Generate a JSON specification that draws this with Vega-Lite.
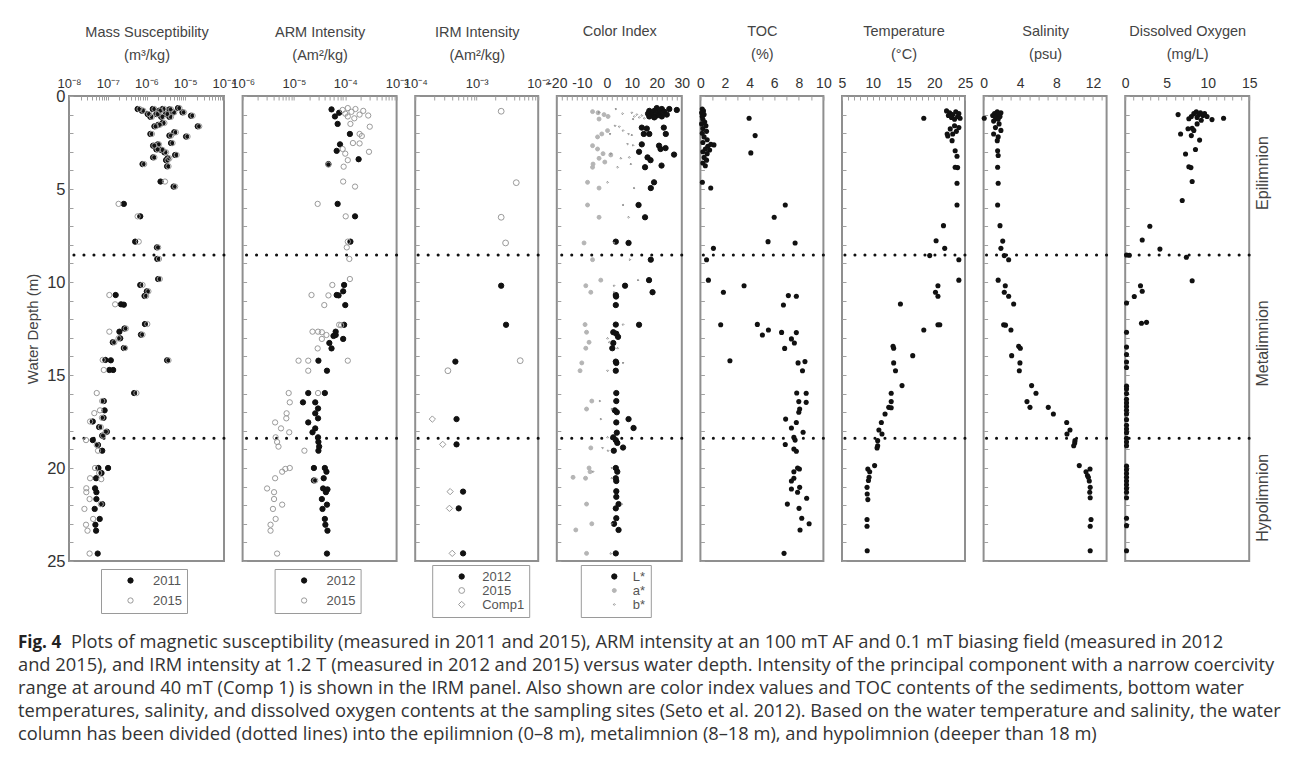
{
  "$schema": "https://vega.github.io/schema/vega-lite/v6.json",
  "background": "white",
  "padding": {"left": 18, "top": 22, "right": 5, "bottom": 5},
  "config": {
    "font": "Liberation Sans",
    "view": {"stroke": "#8f8f8f", "strokeWidth": 2},
    "axis": {"labelColor": "#333333", "titleColor": "#444444", "labelFont": "Liberation Sans", "titleFont": "Liberation Sans", "labelFontSize": 14, "titleFontSize": 14.5, "titleFontWeight": "normal", "domain": false, "grid": false, "tickColor": "#a0a0a0", "tickSize": -4, "labelFlush": false, "labelOverlap": false, "labelPadding": 10, "titleLineHeight": 23},
    "legend": {"orient": "none", "direction": "vertical", "strokeColor": "#9a9a9a", "padding": 5, "labelFontSize": 13, "labelColor": "#555555", "labelFont": "Liberation Sans", "symbolSize": 28, "symbolStrokeWidth": 1, "rowPadding": 6}
  },
  "datasets": {
    "zones": [{"depth": 8.55}, {"depth": 18.4}],
    "zonelabels": [{"zone": "Epilimnion", "depth": 4.14}, {"zone": "Metalimnion", "depth": 13.3}, {"zone": "Hypolimnion", "depth": 21.6}],
    "ms": [
      {"depth":0.65,"value":6.5e-6,"series":"2011"},{"depth":0.70,"value":5.9e-7,"series":"2011"},{"depth":0.70,"value":1.45e-6,"series":"2011"},{"depth":0.70,"value":2.6e-6,"series":"2011"},{"depth":0.72,"value":3.9e-6,"series":"2011"},{"depth":0.79,"value":7.6e-7,"series":"2011"},{"depth":0.79,"value":2.1e-6,"series":"2011"},{"depth":0.88,"value":4.8e-6,"series":"2011"},{"depth":0.88,"value":8.5e-6,"series":"2011"},{"depth":0.97,"value":1.07e-6,"series":"2011"},{"depth":0.97,"value":1.8e-6,"series":"2011"},{"depth":0.97,"value":3.2e-6,"series":"2011"},{"depth":1.06,"value":1.41e-5,"series":"2011"},{"depth":1.12,"value":1.26e-6,"series":"2011"},{"depth":1.12,"value":2.4e-6,"series":"2011"},{"depth":1.12,"value":3.9e-6,"series":"2011"},{"depth":1.45,"value":2.6e-6,"series":"2011"},{"depth":1.55,"value":2.0e-6,"series":"2011"},{"depth":1.63,"value":1.6e-6,"series":"2011"},{"depth":1.63,"value":2.1e-5,"series":"2011"},{"depth":1.95,"value":5.2e-6,"series":"2011"},{"depth":2.04,"value":1.26e-6,"series":"2011"},{"depth":2.13,"value":3.9e-6,"series":"2011"},{"depth":2.18,"value":1.05e-5,"series":"2011"},{"depth":2.53,"value":4.3e-6,"series":"2011"},{"depth":2.60,"value":1.95e-6,"series":"2011"},{"depth":2.67,"value":1.48e-6,"series":"2011"},{"depth":2.87,"value":1.8e-6,"series":"2011"},{"depth":2.90,"value":2.4e-6,"series":"2011"},{"depth":3.03,"value":2.9e-6,"series":"2011"},{"depth":3.17,"value":5.5e-6,"series":"2011"},{"depth":3.30,"value":1.48e-6,"series":"2011"},{"depth":3.35,"value":3.5e-6,"series":"2011"},{"depth":3.45,"value":3.2e-6,"series":"2011"},{"depth":3.66,"value":7.9e-7,"series":"2011"},{"depth":3.78,"value":3.4e-6,"series":"2011"},{"depth":4.60,"value":2.3e-6,"series":"2011"},{"depth":4.87,"value":5.0e-6,"series":"2011"},{"depth":5.80,"value":2.6e-7,"series":"2011"},{"depth":6.47,"value":6.9e-7,"series":"2011"},{"depth":7.83,"value":5.1e-7,"series":"2011"},{"depth":8.14,"value":1.86e-6,"series":"2011"},{"depth":8.76,"value":1.9e-6,"series":"2011"},{"depth":9.84,"value":2.0e-6,"series":"2011"},{"depth":10.16,"value":6.9e-7,"series":"2011"},{"depth":10.50,"value":1.02e-6,"series":"2011"},{"depth":10.70,"value":1.6e-7,"series":"2011"},{"depth":10.75,"value":8.9e-7,"series":"2011"},{"depth":11.20,"value":2.2e-7,"series":"2011"},{"depth":11.22,"value":2.6e-7,"series":"2011"},{"depth":12.26,"value":9.1e-7,"series":"2011"},{"depth":12.50,"value":2.7e-7,"series":"2011"},{"depth":12.67,"value":2.0e-7,"series":"2011"},{"depth":12.83,"value":7.2e-7,"series":"2011"},{"depth":13.03,"value":2.1e-7,"series":"2011"},{"depth":13.24,"value":1.35e-7,"series":"2011"},{"depth":13.55,"value":2.6e-7,"series":"2011"},{"depth":14.19,"value":8.7e-8,"series":"2011"},{"depth":14.21,"value":1.2e-7,"series":"2011"},{"depth":14.21,"value":3.4e-6,"series":"2011"},{"depth":14.73,"value":1.1e-7,"series":"2011"},{"depth":14.73,"value":1.38e-7,"series":"2011"},{"depth":15.97,"value":4.8e-7,"series":"2011"},{"depth":16.40,"value":7.9e-8,"series":"2011"},{"depth":16.90,"value":8.3e-8,"series":"2011"},{"depth":17.30,"value":7.8e-8,"series":"2011"},{"depth":17.50,"value":4.1e-8,"series":"2011"},{"depth":17.80,"value":6.0e-8,"series":"2011"},{"depth":18.05,"value":9.5e-8,"series":"2011"},{"depth":18.26,"value":7.2e-8,"series":"2011"},{"depth":18.50,"value":4.1e-8,"series":"2011"},{"depth":18.76,"value":5.6e-8,"series":"2011"},{"depth":19.07,"value":7.2e-8,"series":"2011"},{"depth":20.00,"value":5.75e-8,"series":"2011"},{"depth":20.00,"value":1.02e-7,"series":"2011"},{"depth":20.27,"value":6.9e-8,"series":"2011"},{"depth":20.55,"value":5.0e-8,"series":"2011"},{"depth":21.09,"value":4.7e-8,"series":"2011"},{"depth":21.30,"value":5.1e-8,"series":"2011"},{"depth":21.67,"value":5.1e-8,"series":"2011"},{"depth":21.94,"value":7.2e-8,"series":"2011"},{"depth":22.20,"value":4.6e-8,"series":"2011"},{"depth":22.74,"value":6.2e-8,"series":"2011"},{"depth":23.05,"value":4.8e-8,"series":"2011"},{"depth":23.37,"value":5.0e-8,"series":"2011"},{"depth":24.60,"value":5.5e-8,"series":"2011"},
      {"depth":0.65,"value":7.1e-6,"series":"2015"},{"depth":0.70,"value":6.6e-7,"series":"2015"},{"depth":0.70,"value":1.6e-6,"series":"2015"},{"depth":0.70,"value":2.9e-6,"series":"2015"},{"depth":0.72,"value":4.3e-6,"series":"2015"},{"depth":0.79,"value":8.3e-7,"series":"2015"},{"depth":0.79,"value":2.3e-6,"series":"2015"},{"depth":0.88,"value":5.2e-6,"series":"2015"},{"depth":0.88,"value":9.3e-6,"series":"2015"},{"depth":0.97,"value":1.17e-6,"series":"2015"},{"depth":0.97,"value":1.95e-6,"series":"2015"},{"depth":0.97,"value":3.5e-6,"series":"2015"},{"depth":1.06,"value":1.55e-5,"series":"2015"},{"depth":1.12,"value":1.38e-6,"series":"2015"},{"depth":1.12,"value":2.6e-6,"series":"2015"},{"depth":1.12,"value":4.3e-6,"series":"2015"},{"depth":1.45,"value":2.9e-6,"series":"2015"},{"depth":1.55,"value":2.2e-6,"series":"2015"},{"depth":1.63,"value":1.74e-6,"series":"2015"},{"depth":1.63,"value":2.3e-5,"series":"2015"},{"depth":1.95,"value":5.75e-6,"series":"2015"},{"depth":2.04,"value":1.38e-6,"series":"2015"},{"depth":2.13,"value":4.3e-6,"series":"2015"},{"depth":2.18,"value":1.15e-5,"series":"2015"},{"depth":2.53,"value":4.7e-6,"series":"2015"},{"depth":2.60,"value":2.1e-6,"series":"2015"},{"depth":2.67,"value":1.6e-6,"series":"2015"},{"depth":2.87,"value":1.95e-6,"series":"2015"},{"depth":2.90,"value":2.6e-6,"series":"2015"},{"depth":3.03,"value":3.2e-6,"series":"2015"},{"depth":3.17,"value":6.0e-6,"series":"2015"},{"depth":3.30,"value":1.6e-6,"series":"2015"},{"depth":3.35,"value":3.9e-6,"series":"2015"},{"depth":3.45,"value":3.5e-6,"series":"2015"},{"depth":3.66,"value":8.7e-7,"series":"2015"},{"depth":3.78,"value":3.7e-6,"series":"2015"},{"depth":4.60,"value":3.0e-6,"series":"2015"},{"depth":4.87,"value":5.5e-6,"series":"2015"},{"depth":5.80,"value":1.9e-7,"series":"2015"},{"depth":6.47,"value":5.9e-7,"series":"2015"},{"depth":7.83,"value":6.3e-7,"series":"2015"},{"depth":8.14,"value":2.0e-6,"series":"2015"},{"depth":8.76,"value":2.1e-6,"series":"2015"},{"depth":9.84,"value":2.2e-6,"series":"2015"},{"depth":10.16,"value":7.9e-7,"series":"2015"},{"depth":10.50,"value":1.12e-6,"series":"2015"},{"depth":10.70,"value":1.1e-7,"series":"2015"},{"depth":10.75,"value":9.8e-7,"series":"2015"},{"depth":11.20,"value":1.55e-7,"series":"2015"},{"depth":12.26,"value":1.05e-6,"series":"2015"},{"depth":12.50,"value":2.95e-7,"series":"2015"},{"depth":12.67,"value":1.1e-7,"series":"2015"},{"depth":12.83,"value":7.9e-7,"series":"2015"},{"depth":13.03,"value":1.9e-7,"series":"2015"},{"depth":13.24,"value":1.48e-7,"series":"2015"},{"depth":13.55,"value":2.8e-7,"series":"2015"},{"depth":14.19,"value":7.4e-8,"series":"2015"},{"depth":14.21,"value":3.7e-6,"series":"2015"},{"depth":14.73,"value":7.9e-8,"series":"2015"},{"depth":15.97,"value":5.5e-7,"series":"2015"},{"depth":15.97,"value":5.2e-8,"series":"2015"},{"depth":16.40,"value":7.2e-8,"series":"2015"},{"depth":16.90,"value":6.3e-8,"series":"2015"},{"depth":17.05,"value":4.5e-8,"series":"2015"},{"depth":17.30,"value":7.1e-8,"series":"2015"},{"depth":17.50,"value":3.5e-8,"series":"2015"},{"depth":17.80,"value":6.6e-8,"series":"2015"},{"depth":18.05,"value":8.9e-8,"series":"2015"},{"depth":18.26,"value":7.6e-8,"series":"2015"},{"depth":18.50,"value":2.75e-8,"series":"2015"},{"depth":18.76,"value":5.2e-8,"series":"2015"},{"depth":19.07,"value":5.6e-8,"series":"2015"},{"depth":20.00,"value":4.7e-8,"series":"2015"},{"depth":20.27,"value":6.0e-8,"series":"2015"},{"depth":20.55,"value":3.5e-8,"series":"2015"},{"depth":20.60,"value":6.8e-8,"series":"2015"},{"depth":21.09,"value":2.8e-8,"series":"2015"},{"depth":21.30,"value":2.8e-8,"series":"2015"},{"depth":21.67,"value":3.4e-8,"series":"2015"},{"depth":21.94,"value":6.6e-8,"series":"2015"},{"depth":22.20,"value":2.5e-8,"series":"2015"},{"depth":22.74,"value":4.2e-8,"series":"2015"},{"depth":23.05,"value":2.75e-8,"series":"2015"},{"depth":23.37,"value":3.0e-8,"series":"2015"},{"depth":24.60,"value":3.4e-8,"series":"2015"}
    ],
    "arm": [
      {"depth":0.72,"value":5.4e-5,"series":"2012"},{"depth":0.9,"value":7.6e-5,"series":"2012"},{"depth":1.1,"value":6.3e-5,"series":"2012"},{"depth":1.5,"value":7.1e-5,"series":"2012"},{"depth":2.04,"value":1.23e-4,"series":"2012"},{"depth":2.6,"value":7.9e-5,"series":"2012"},{"depth":2.95,"value":6.8e-5,"series":"2012"},{"depth":3.4,"value":1.82e-4,"series":"2012"},{"depth":3.66,"value":4.7e-5,"series":"2012"},{"depth":5.8,"value":7.1e-5,"series":"2012"},{"depth":6.47,"value":1.55e-4,"series":"2012"},{"depth":7.83,"value":1.26e-4,"series":"2012"},{"depth":10.16,"value":9.5e-5,"series":"2012"},{"depth":10.5,"value":9.1e-5,"series":"2012"},{"depth":10.7,"value":6.8e-5,"series":"2012"},{"depth":10.72,"value":7.4e-5,"series":"2012"},{"depth":11.24,"value":1.0e-4,"series":"2012"},{"depth":12.3,"value":9.5e-5,"series":"2012"},{"depth":12.67,"value":6.5e-5,"series":"2012"},{"depth":12.85,"value":6.5e-5,"series":"2012"},{"depth":12.9,"value":5.9e-5,"series":"2012"},{"depth":13.06,"value":9.1e-5,"series":"2012"},{"depth":13.28,"value":4.9e-5,"series":"2012"},{"depth":13.57,"value":5.4e-5,"series":"2012"},{"depth":14.23,"value":3.0e-5,"series":"2012"},{"depth":14.77,"value":4.4e-5,"series":"2012"},{"depth":15.97,"value":1.9e-5,"series":"2012"},{"depth":15.97,"value":4.0e-5,"series":"2012"},{"depth":16.47,"value":1.5e-5,"series":"2012"},{"depth":16.47,"value":2.6e-5,"series":"2012"},{"depth":16.8,"value":2.95e-5,"series":"2012"},{"depth":17.06,"value":2.6e-5,"series":"2012"},{"depth":17.33,"value":2.95e-5,"series":"2012"},{"depth":17.55,"value":1.9e-5,"series":"2012"},{"depth":17.87,"value":2.6e-5,"series":"2012"},{"depth":18.08,"value":2.3e-5,"series":"2012"},{"depth":18.35,"value":2.95e-5,"series":"2012"},{"depth":18.6,"value":3.0e-5,"series":"2012"},{"depth":18.85,"value":3.1e-5,"series":"2012"},{"depth":19.07,"value":3.0e-5,"series":"2012"},{"depth":20.0,"value":2.45e-5,"series":"2012"},{"depth":20.0,"value":4.0e-5,"series":"2012"},{"depth":20.2,"value":4.3e-5,"series":"2012"},{"depth":20.55,"value":3.8e-5,"series":"2012"},{"depth":20.67,"value":2.45e-5,"series":"2012"},{"depth":21.1,"value":3.7e-5,"series":"2012"},{"depth":21.15,"value":4.5e-5,"series":"2012"},{"depth":21.3,"value":4.2e-5,"series":"2012"},{"depth":21.67,"value":3.5e-5,"series":"2012"},{"depth":21.97,"value":4.4e-5,"series":"2012"},{"depth":22.2,"value":3.6e-5,"series":"2012"},{"depth":22.74,"value":4.0e-5,"series":"2012"},{"depth":23.05,"value":4.1e-5,"series":"2012"},{"depth":23.37,"value":4.5e-5,"series":"2012"},{"depth":24.6,"value":4.4e-5,"series":"2012"},
      {"depth":0.65,"value":1.12e-4,"series":"2015"},{"depth":0.7,"value":1.58e-4,"series":"2015"},{"depth":0.75,"value":8.9e-5,"series":"2015"},{"depth":0.8,"value":2.24e-4,"series":"2015"},{"depth":0.85,"value":1.32e-4,"series":"2015"},{"depth":0.95,"value":1.0e-4,"series":"2015"},{"depth":1.0,"value":1.9e-4,"series":"2015"},{"depth":1.05,"value":2.8e-4,"series":"2015"},{"depth":1.1,"value":1.12e-4,"series":"2015"},{"depth":1.2,"value":1.5e-4,"series":"2015"},{"depth":1.5,"value":1.26e-4,"series":"2015"},{"depth":1.65,"value":3.0e-4,"series":"2015"},{"depth":2.04,"value":1.9e-4,"series":"2015"},{"depth":2.15,"value":2.1e-4,"series":"2015"},{"depth":2.53,"value":1.41e-4,"series":"2015"},{"depth":2.55,"value":1.9e-4,"series":"2015"},{"depth":2.85,"value":8.9e-5,"series":"2015"},{"depth":3.0,"value":2.9e-4,"series":"2015"},{"depth":3.1,"value":1.0e-4,"series":"2015"},{"depth":3.45,"value":1.12e-4,"series":"2015"},{"depth":3.69,"value":4.7e-5,"series":"2015"},{"depth":3.8,"value":9.3e-5,"series":"2015"},{"depth":4.6,"value":9.1e-5,"series":"2015"},{"depth":4.87,"value":1.55e-4,"series":"2015"},{"depth":5.8,"value":2.9e-5,"series":"2015"},{"depth":6.47,"value":1.02e-4,"series":"2015"},{"depth":7.83,"value":1.12e-4,"series":"2015"},{"depth":8.14,"value":1.07e-4,"series":"2015"},{"depth":8.76,"value":1.2e-4,"series":"2015"},{"depth":9.84,"value":1.23e-4,"series":"2015"},{"depth":10.16,"value":5.6e-5,"series":"2015"},{"depth":10.7,"value":2.2e-5,"series":"2015"},{"depth":10.72,"value":4.7e-5,"series":"2015"},{"depth":11.24,"value":3.9e-5,"series":"2015"},{"depth":12.3,"value":7.6e-5,"series":"2015"},{"depth":12.32,"value":8.3e-5,"series":"2015"},{"depth":12.67,"value":2.3e-5,"series":"2015"},{"depth":12.67,"value":2.95e-5,"series":"2015"},{"depth":12.7,"value":3.5e-5,"series":"2015"},{"depth":12.85,"value":4.3e-5,"series":"2015"},{"depth":13.06,"value":3.5e-5,"series":"2015"},{"depth":13.57,"value":2.9e-5,"series":"2015"},{"depth":14.23,"value":1.23e-5,"series":"2015"},{"depth":14.23,"value":1.9e-5,"series":"2015"},{"depth":14.23,"value":1.12e-4,"series":"2015"},{"depth":14.77,"value":1.9e-5,"series":"2015"},{"depth":15.97,"value":7.9e-6,"series":"2015"},{"depth":15.97,"value":2.95e-5,"series":"2015"},{"depth":16.47,"value":8.3e-6,"series":"2015"},{"depth":17.06,"value":7.2e-6,"series":"2015"},{"depth":17.33,"value":7.1e-6,"series":"2015"},{"depth":17.55,"value":4.3e-6,"series":"2015"},{"depth":17.87,"value":5.6e-6,"series":"2015"},{"depth":18.08,"value":8.1e-6,"series":"2015"},{"depth":18.35,"value":4.4e-6,"series":"2015"},{"depth":18.6,"value":4.7e-6,"series":"2015"},{"depth":18.85,"value":5.0e-6,"series":"2015"},{"depth":19.07,"value":1.6e-5,"series":"2015"},{"depth":20.0,"value":8.3e-6,"series":"2015"},{"depth":20.05,"value":6.8e-6,"series":"2015"},{"depth":20.2,"value":5.9e-6,"series":"2015"},{"depth":20.55,"value":4.3e-6,"series":"2015"},{"depth":20.67,"value":2.6e-5,"series":"2015"},{"depth":21.1,"value":3.0e-6,"series":"2015"},{"depth":21.3,"value":4.1e-6,"series":"2015"},{"depth":21.67,"value":4.1e-6,"series":"2015"},{"depth":21.97,"value":5.9e-6,"series":"2015"},{"depth":22.2,"value":3.9e-6,"series":"2015"},{"depth":22.74,"value":4.4e-6,"series":"2015"},{"depth":23.05,"value":3.5e-6,"series":"2015"},{"depth":23.37,"value":3.5e-6,"series":"2015"},{"depth":24.6,"value":4.7e-6,"series":"2015"}
    ],
    "irm": [
      {"depth":10.2,"value":2.5e-3,"series":"2012"},{"depth":12.3,"value":3.0e-3,"series":"2012"},{"depth":14.28,"value":4.5e-4,"series":"2012"},{"depth":17.37,"value":4.7e-4,"series":"2012"},{"depth":18.73,"value":4.7e-4,"series":"2012"},{"depth":21.27,"value":6.0e-4,"series":"2012"},{"depth":22.17,"value":5.1e-4,"series":"2012"},{"depth":24.59,"value":6.0e-4,"series":"2012"},
      {"depth":0.82,"value":2.5e-3,"series":"2015"},{"depth":4.66,"value":4.4e-3,"series":"2015"},{"depth":6.52,"value":2.5e-3,"series":"2015"},{"depth":7.9,"value":2.95e-3,"series":"2015"},{"depth":14.23,"value":5.1e-3,"series":"2015"},{"depth":14.77,"value":3.4e-4,"series":"2015"},
      {"depth":17.37,"value":1.9e-4,"series":"Comp1"},{"depth":18.73,"value":2.8e-4,"series":"Comp1"},{"depth":21.27,"value":3.7e-4,"series":"Comp1"},{"depth":22.17,"value":3.6e-4,"series":"Comp1"},{"depth":24.59,"value":4.0e-4,"series":"Comp1"}
    ],
    "ci": [
      {"depth":0.65,"value":20,"series":"L*"},{"depth":0.7,"value":22,"series":"L*"},{"depth":0.7,"value":25,"series":"L*"},{"depth":0.75,"value":28,"series":"L*"},{"depth":0.8,"value":17,"series":"L*"},{"depth":0.8,"value":19,"series":"L*"},{"depth":0.85,"value":23,"series":"L*"},{"depth":0.9,"value":21,"series":"L*"},{"depth":0.95,"value":16.5,"series":"L*"},{"depth":1.0,"value":18,"series":"L*"},{"depth":1.0,"value":24,"series":"L*"},{"depth":1.05,"value":20,"series":"L*"},{"depth":1.1,"value":17,"series":"L*"},{"depth":1.1,"value":22,"series":"L*"},{"depth":1.15,"value":19,"series":"L*"},{"depth":1.7,"value":14,"series":"L*"},{"depth":1.75,"value":16,"series":"L*"},{"depth":1.7,"value":22.8,"series":"L*"},{"depth":2.04,"value":14.8,"series":"L*"},{"depth":2.04,"value":17,"series":"L*"},{"depth":2.04,"value":23.6,"series":"L*"},{"depth":2.6,"value":14,"series":"L*"},{"depth":2.67,"value":20.9,"series":"L*"},{"depth":2.85,"value":21.5,"series":"L*"},{"depth":2.8,"value":23.5,"series":"L*"},{"depth":3.0,"value":12.9,"series":"L*"},{"depth":3.15,"value":26.9,"series":"L*"},{"depth":3.3,"value":16.3,"series":"L*"},{"depth":3.45,"value":17.5,"series":"L*"},{"depth":3.74,"value":21.9,"series":"L*"},{"depth":3.83,"value":15.3,"series":"L*"},{"depth":4.64,"value":18.9,"series":"L*"},{"depth":4.95,"value":17.6,"series":"L*"},{"depth":5.86,"value":12.7,"series":"L*"},{"depth":6.52,"value":15.3,"series":"L*"},{"depth":7.83,"value":3.6,"series":"L*"},{"depth":7.9,"value":8.7,"series":"L*"},{"depth":8.8,"value":17.6,"series":"L*"},{"depth":9.9,"value":16.9,"series":"L*"},{"depth":10.2,"value":7.3,"series":"L*"},{"depth":10.55,"value":18.3,"series":"L*"},{"depth":10.7,"value":3.6,"series":"L*"},{"depth":10.78,"value":3.7,"series":"L*"},{"depth":11.24,"value":3.6,"series":"L*"},{"depth":12.29,"value":3.6,"series":"L*"},{"depth":12.3,"value":12.9,"series":"L*"},{"depth":12.7,"value":2.6,"series":"L*"},{"depth":12.78,"value":3.8,"series":"L*"},{"depth":12.95,"value":4.5,"series":"L*"},{"depth":13.28,"value":2.6,"series":"L*"},{"depth":13.56,"value":2.2,"series":"L*"},{"depth":14.28,"value":3.6,"series":"L*"},{"depth":14.35,"value":3.8,"series":"L*"},{"depth":14.77,"value":3.6,"series":"L*"},{"depth":15.97,"value":3.8,"series":"L*"},{"depth":16.4,"value":3.8,"series":"L*"},{"depth":16.9,"value":3.2,"series":"L*"},{"depth":17.0,"value":4.0,"series":"L*"},{"depth":17.37,"value":8.7,"series":"L*"},{"depth":17.55,"value":3.8,"series":"L*"},{"depth":17.85,"value":10.7,"series":"L*"},{"depth":18.1,"value":4.0,"series":"L*"},{"depth":18.35,"value":2.6,"series":"L*"},{"depth":18.5,"value":3.6,"series":"L*"},{"depth":18.65,"value":4.2,"series":"L*"},{"depth":18.9,"value":6.5,"series":"L*"},{"depth":19.07,"value":2.8,"series":"L*"},{"depth":20.0,"value":3.6,"series":"L*"},{"depth":20.2,"value":4.2,"series":"L*"},{"depth":20.55,"value":3.6,"series":"L*"},{"depth":20.7,"value":3.8,"series":"L*"},{"depth":21.25,"value":3.8,"series":"L*"},{"depth":21.55,"value":3.8,"series":"L*"},{"depth":21.94,"value":4.7,"series":"L*"},{"depth":22.17,"value":3.6,"series":"L*"},{"depth":22.7,"value":3.8,"series":"L*"},{"depth":23.0,"value":2.9,"series":"L*"},{"depth":23.33,"value":4.7,"series":"L*"},{"depth":24.59,"value":3.6,"series":"L*"},
      {"depth":0.84,"value":-5.7,"series":"a*"},{"depth":0.9,"value":-3.5,"series":"a*"},{"depth":1.0,"value":-1.1,"series":"a*"},{"depth":1.1,"value":0.5,"series":"a*"},{"depth":1.24,"value":-3.1,"series":"a*"},{"depth":1.86,"value":0.3,"series":"a*"},{"depth":2.04,"value":-2,"series":"a*"},{"depth":2.2,"value":-3.7,"series":"a*"},{"depth":2.67,"value":-5.7,"series":"a*"},{"depth":2.85,"value":-3.7,"series":"a*"},{"depth":3.17,"value":1.6,"series":"a*"},{"depth":3.1,"value":-1.5,"series":"a*"},{"depth":3.35,"value":-3.1,"series":"a*"},{"depth":3.55,"value":-0.8,"series":"a*"},{"depth":3.66,"value":-5.5,"series":"a*"},{"depth":3.83,"value":-5.7,"series":"a*"},{"depth":4.64,"value":-7.7,"series":"a*"},{"depth":4.95,"value":-3.1,"series":"a*"},{"depth":5.86,"value":-7.7,"series":"a*"},{"depth":6.52,"value":-3.1,"series":"a*"},{"depth":7.9,"value":-9.1,"series":"a*"},{"depth":8.8,"value":-5.7,"series":"a*"},{"depth":9.9,"value":-2.4,"series":"a*"},{"depth":10.2,"value":-8.4,"series":"a*"},{"depth":10.55,"value":-6.4,"series":"a*"},{"depth":12.29,"value":-8.7,"series":"a*"},{"depth":12.7,"value":-8.1,"series":"a*"},{"depth":13.24,"value":-7.1,"series":"a*"},{"depth":13.56,"value":-8.4,"series":"a*"},{"depth":14.35,"value":-10,"series":"a*"},{"depth":14.77,"value":-10.7,"series":"a*"},{"depth":16.4,"value":-6,"series":"a*"},{"depth":16.83,"value":-8.1,"series":"a*"},{"depth":18.92,"value":-6.4,"series":"a*"},{"depth":20.0,"value":-7.1,"series":"a*"},{"depth":20.2,"value":-6.7,"series":"a*"},{"depth":20.5,"value":-13.5,"series":"a*"},{"depth":20.55,"value":-8.5,"series":"a*"},{"depth":21.94,"value":-8.1,"series":"a*"},{"depth":23.0,"value":-6,"series":"a*"},{"depth":23.33,"value":-12.4,"series":"a*"},{"depth":24.59,"value":-8.1,"series":"a*"},
      {"depth":0.7,"value":3.6,"series":"b*"},{"depth":0.88,"value":-3.1,"series":"b*"},{"depth":0.9,"value":10,"series":"b*"},{"depth":0.95,"value":6.3,"series":"b*"},{"depth":1.0,"value":12,"series":"b*"},{"depth":1.05,"value":14,"series":"b*"},{"depth":1.1,"value":11,"series":"b*"},{"depth":1.15,"value":13,"series":"b*"},{"depth":1.2,"value":15,"series":"b*"},{"depth":1.24,"value":10.5,"series":"b*"},{"depth":1.6,"value":3.3,"series":"b*"},{"depth":1.65,"value":5,"series":"b*"},{"depth":1.86,"value":6.5,"series":"b*"},{"depth":2.04,"value":8.7,"series":"b*"},{"depth":2.1,"value":10,"series":"b*"},{"depth":2.04,"value":1.3,"series":"b*"},{"depth":2.58,"value":8.3,"series":"b*"},{"depth":2.65,"value":10.5,"series":"b*"},{"depth":3.1,"value":1.6,"series":"b*"},{"depth":3.35,"value":5.6,"series":"b*"},{"depth":3.3,"value":9,"series":"b*"},{"depth":3.66,"value":9.6,"series":"b*"},{"depth":3.83,"value":4.3,"series":"b*"},{"depth":4.64,"value":0.3,"series":"b*"},{"depth":4.95,"value":10.9,"series":"b*"},{"depth":5.86,"value":6.5,"series":"b*"},{"depth":6.52,"value":8.7,"series":"b*"},{"depth":7.9,"value":2.9,"series":"b*"},{"depth":8.8,"value":9.2,"series":"b*"},{"depth":9.9,"value":12.5,"series":"b*"},{"depth":10.2,"value":2.9,"series":"b*"},{"depth":10.55,"value":2.9,"series":"b*"},{"depth":12.29,"value":6.5,"series":"b*"},{"depth":13.03,"value":0.3,"series":"b*"},{"depth":13.24,"value":1.0,"series":"b*"},{"depth":13.56,"value":4.3,"series":"b*"},{"depth":14.35,"value":6.5,"series":"b*"},{"depth":14.77,"value":0.3,"series":"b*"},{"depth":16.4,"value":-2.8,"series":"b*"},{"depth":16.83,"value":2.0,"series":"b*"},{"depth":17.37,"value":-2.4,"series":"b*"},{"depth":18.35,"value":0.3,"series":"b*"},{"depth":18.92,"value":-1.7,"series":"b*"},{"depth":19.07,"value":0.5,"series":"b*"},{"depth":20.0,"value":2.0,"series":"b*"},{"depth":20.2,"value":-5.5,"series":"b*"},{"depth":20.55,"value":2.0,"series":"b*"},{"depth":21.94,"value":6,"series":"b*"},{"depth":23.0,"value":2.0,"series":"b*"},{"depth":24.6,"value":1.6,"series":"b*"}
    ],
    "toc": [
      {"depth":0.7,"value":0.15},{"depth":0.8,"value":0.25},{"depth":0.9,"value":0.1},{"depth":1.0,"value":0.3},{"depth":1.1,"value":0.15},{"depth":1.2,"value":3.96},{"depth":1.25,"value":0.2},{"depth":1.4,"value":0.35},{"depth":1.5,"value":0.1},{"depth":1.6,"value":0.45},{"depth":1.75,"value":0.2},{"depth":1.9,"value":0.5},{"depth":2.0,"value":0.15},{"depth":2.13,"value":4.45},{"depth":2.2,"value":0.3},{"depth":2.35,"value":0.55},{"depth":2.5,"value":0.2},{"depth":2.63,"value":1.1},{"depth":2.6,"value":0.85},{"depth":2.7,"value":0.6},{"depth":2.85,"value":0.4},{"depth":2.9,"value":0.75},{"depth":3.0,"value":0.2},{"depth":3.06,"value":4.1},{"depth":3.1,"value":0.55},{"depth":3.3,"value":0.3},{"depth":3.45,"value":0.5},{"depth":3.6,"value":0.2},{"depth":3.75,"value":0.4},{"depth":4.64,"value":0.16},{"depth":4.95,"value":0.84},{"depth":5.86,"value":6.9},{"depth":6.52,"value":6.0},{"depth":7.83,"value":5.5},{"depth":7.9,"value":7.7},{"depth":8.19,"value":1.06},{"depth":8.8,"value":0.5},{"depth":9.9,"value":0.65},{"depth":10.2,"value":3.55},{"depth":10.55,"value":1.87},{"depth":10.73,"value":7.15},{"depth":10.77,"value":7.8},{"depth":11.24,"value":6.75},{"depth":12.28,"value":4.63},{"depth":12.3,"value":1.65},{"depth":12.58,"value":5.53},{"depth":12.71,"value":6.6},{"depth":12.72,"value":7.8},{"depth":12.85,"value":5.04},{"depth":13.06,"value":7.4},{"depth":13.28,"value":7.64},{"depth":13.57,"value":6.85},{"depth":14.23,"value":2.4},{"depth":14.28,"value":8.5},{"depth":14.35,"value":7.94},{"depth":14.77,"value":8.3},{"depth":15.97,"value":7.83},{"depth":15.98,"value":8.6},{"depth":16.43,"value":8.0},{"depth":16.47,"value":8.6},{"depth":16.83,"value":8.07},{"depth":17.0,"value":8.0},{"depth":17.37,"value":6.93},{"depth":17.55,"value":7.8},{"depth":17.85,"value":7.4},{"depth":18.08,"value":8.35},{"depth":18.35,"value":7.6},{"depth":18.5,"value":7.7},{"depth":18.74,"value":6.9},{"depth":18.98,"value":7.6},{"depth":19.1,"value":7.8},{"depth":20.0,"value":7.9},{"depth":20.05,"value":8.05},{"depth":20.2,"value":7.6},{"depth":20.55,"value":7.6},{"depth":20.7,"value":7.4},{"depth":21.04,"value":8.07},{"depth":21.13,"value":7.4},{"depth":21.3,"value":7.9},{"depth":21.63,"value":8.64},{"depth":21.94,"value":7.07},{"depth":22.17,"value":8.02},{"depth":22.7,"value":8.24},{"depth":23.0,"value":8.84},{"depth":23.33,"value":8.1},{"depth":24.59,"value":6.8}
    ],
    "temp": [
      {"depth":0.8,"value":22.0},{"depth":0.85,"value":23.5},{"depth":0.9,"value":22.5},{"depth":0.95,"value":24.0},{"depth":1.0,"value":23.0},{"depth":1.05,"value":22.3},{"depth":1.1,"value":23.8},{"depth":1.15,"value":22.8},{"depth":1.2,"value":18.3},{"depth":1.2,"value":24.2},{"depth":1.25,"value":23.3},{"depth":1.77,"value":22.6},{"depth":1.6,"value":23.3},{"depth":1.7,"value":24.0},{"depth":2.04,"value":22.1},{"depth":2.04,"value":23.0},{"depth":1.9,"value":23.6},{"depth":2.15,"value":22.2},{"depth":2.4,"value":22.9},{"depth":2.94,"value":23.4},{"depth":3.24,"value":23.7},{"depth":3.83,"value":23.4},{"depth":3.85,"value":23.8},{"depth":4.69,"value":23.7},{"depth":5.86,"value":23.7},{"depth":6.97,"value":21.5},{"depth":7.78,"value":20.3},{"depth":8.19,"value":21.7},{"depth":8.58,"value":19.26},{"depth":8.8,"value":24.0},{"depth":9.9,"value":24.0},{"depth":10.2,"value":20.6},{"depth":10.55,"value":20.2},{"depth":10.77,"value":20.6},{"depth":11.18,"value":14.5},{"depth":12.3,"value":20.6},{"depth":12.3,"value":20.9},{"depth":12.58,"value":18.3},{"depth":13.46,"value":13.3},{"depth":13.56,"value":13.4},{"depth":13.96,"value":16.5},{"depth":14.35,"value":13.4},{"depth":14.77,"value":13.7},{"depth":15.57,"value":14.76},{"depth":15.98,"value":13.0},{"depth":16.43,"value":13.0},{"depth":16.74,"value":12.6},{"depth":16.76,"value":13.0},{"depth":17.1,"value":12.0},{"depth":17.55,"value":11.4},{"depth":17.96,"value":11.0},{"depth":18.17,"value":11.5},{"depth":18.53,"value":10.8},{"depth":18.8,"value":10.8},{"depth":18.92,"value":10.7},{"depth":19.87,"value":10.3},{"depth":20.05,"value":9.2},{"depth":20.2,"value":9.5},{"depth":20.5,"value":9.4},{"depth":20.67,"value":9.3},{"depth":21.04,"value":9.07},{"depth":21.4,"value":9.1},{"depth":21.7,"value":9.2},{"depth":22.77,"value":9.07},{"depth":23.13,"value":9.07},{"depth":24.45,"value":9.1}
    ],
    "sal": [
      {"depth":0.85,"value":1.5},{"depth":0.9,"value":1.9},{"depth":0.95,"value":1.2},{"depth":1.0,"value":1.6},{"depth":1.05,"value":1.0},{"depth":1.1,"value":1.8},{"depth":1.15,"value":1.3},{"depth":1.2,"value":0.07},{"depth":1.25,"value":1.6},{"depth":1.35,"value":1.1},{"depth":1.5,"value":1.7},{"depth":1.7,"value":1.3},{"depth":1.85,"value":1.9},{"depth":2.04,"value":1.1},{"depth":2.2,"value":1.6},{"depth":2.4,"value":1.5},{"depth":2.94,"value":1.54},{"depth":3.2,"value":1.6},{"depth":3.83,"value":1.54},{"depth":4.69,"value":1.6},{"depth":5.86,"value":1.54},{"depth":6.97,"value":1.8},{"depth":7.8,"value":2.1},{"depth":8.19,"value":1.9},{"depth":8.58,"value":2.27},{"depth":8.8,"value":2.75},{"depth":9.9,"value":1.6},{"depth":10.2,"value":2.38},{"depth":10.55,"value":2.27},{"depth":10.77,"value":2.75},{"depth":11.18,"value":3.3},{"depth":12.3,"value":2.2},{"depth":12.32,"value":2.4},{"depth":12.58,"value":3.0},{"depth":13.46,"value":3.85},{"depth":13.56,"value":4.03},{"depth":13.96,"value":3.08},{"depth":14.35,"value":3.99},{"depth":14.77,"value":3.92},{"depth":15.57,"value":5.27},{"depth":15.98,"value":5.75},{"depth":16.43,"value":4.76},{"depth":16.74,"value":5.09},{"depth":16.74,"value":7.1},{"depth":17.1,"value":7.66},{"depth":17.55,"value":9.12},{"depth":17.96,"value":9.48},{"depth":18.17,"value":9.15},{"depth":18.53,"value":10.03},{"depth":18.65,"value":10.0},{"depth":18.8,"value":9.89},{"depth":19.87,"value":10.5},{"depth":20.05,"value":11.68},{"depth":20.2,"value":11.24},{"depth":20.4,"value":11.4},{"depth":20.5,"value":11.5},{"depth":20.7,"value":11.6},{"depth":21.04,"value":11.7},{"depth":21.3,"value":11.65},{"depth":21.6,"value":11.7},{"depth":22.77,"value":11.79},{"depth":23.13,"value":11.7},{"depth":24.45,"value":11.7}
    ],
    "do": [
      {"depth":0.85,"value":8.6},{"depth":0.9,"value":9.1},{"depth":0.95,"value":8.3},{"depth":0.95,"value":9.6},{"depth":1.0,"value":6.4},{"depth":1.0,"value":8.9},{"depth":1.05,"value":9.4},{"depth":1.1,"value":8.0},{"depth":1.1,"value":9.9},{"depth":1.15,"value":8.7},{"depth":1.2,"value":11.9},{"depth":1.27,"value":10.5},{"depth":1.22,"value":7.7},{"depth":1.3,"value":9.2},{"depth":1.5,"value":8.7},{"depth":1.74,"value":8.1},{"depth":1.76,"value":7.6},{"depth":1.85,"value":8.3},{"depth":2.04,"value":6.7},{"depth":2.13,"value":8.0},{"depth":2.37,"value":9.0},{"depth":2.88,"value":8.5},{"depth":3.12,"value":7.3},{"depth":3.8,"value":7.7},{"depth":3.85,"value":7.95},{"depth":4.6,"value":8.1},{"depth":5.62,"value":6.9},{"depth":7.0,"value":2.98},{"depth":7.74,"value":2.06},{"depth":8.23,"value":4.2},{"depth":8.55,"value":0.16},{"depth":8.56,"value":0.5},{"depth":8.67,"value":7.4},{"depth":9.93,"value":8.1},{"depth":10.2,"value":1.85},{"depth":10.5,"value":2.06},{"depth":10.78,"value":1.1},{"depth":11.13,"value":0.16},{"depth":12.17,"value":2.58},{"depth":12.22,"value":1.97},{"depth":12.7,"value":0.16},{"depth":13.5,"value":0.16},{"depth":13.9,"value":0.16},{"depth":14.3,"value":0.16},{"depth":14.6,"value":0.16},{"depth":15.6,"value":0.16},{"depth":15.75,"value":0.16},{"depth":16.0,"value":0.16},{"depth":16.3,"value":0.16},{"depth":16.5,"value":0.16},{"depth":16.7,"value":0.16},{"depth":16.9,"value":0.16},{"depth":17.1,"value":0.16},{"depth":17.4,"value":0.16},{"depth":17.7,"value":0.16},{"depth":17.9,"value":0.16},{"depth":18.1,"value":0.16},{"depth":18.4,"value":0.16},{"depth":18.6,"value":0.16},{"depth":18.8,"value":0.16},{"depth":19.9,"value":0.16},{"depth":20.1,"value":0.16},{"depth":20.3,"value":0.16},{"depth":20.5,"value":0.16},{"depth":20.7,"value":0.16},{"depth":20.9,"value":0.16},{"depth":21.1,"value":0.16},{"depth":21.3,"value":0.16},{"depth":21.6,"value":0.16},{"depth":22.7,"value":0.16},{"depth":23.1,"value":0.16},{"depth":24.45,"value":0.16}
    ],
    "caption": [
      {"line": 1, "part": "fig", "text": "Fig. 4"},
      {"line": 1, "part": "first", "text": "Plots of magnetic susceptibility (measured in 2011 and 2015), ARM intensity at an 100 mT AF and 0.1 mT biasing field (measured in 2012"},
      {"line": 2, "part": "body", "text": "and 2015), and IRM intensity at 1.2 T (measured in 2012 and 2015) versus water depth. Intensity of the principal component with a narrow coercivity"},
      {"line": 3, "part": "body", "text": "range at around 40 mT (Comp 1) is shown in the IRM panel. Also shown are color index values and TOC contents of the sediments, bottom water"},
      {"line": 4, "part": "body", "text": "temperatures, salinity, and dissolved oxygen contents at the sampling sites (Seto et al. 2012). Based on the water temperature and salinity, the water"},
      {"line": 5, "part": "body", "text": "column has been divided (dotted lines) into the epilimnion (0–8 m), metalimnion (8–18 m), and hypolimnion (deeper than 18 m)"}
    ]
  },
  "vconcat": [
    {
      "hconcat": [
        {
          "width": 155, "height": 465,
          "encoding": {"y": {"field": "depth", "type": "quantitative", "scale": {"domain": [0, 25], "reverse": true, "nice": false, "zero": false}, "axis": {"orient": "left", "tickCount": 25, "labelExpr": "datum.value % 5 == 0 ? datum.label : ''", "labelFontSize": 16.5, "labelPadding": 8, "title": "Water Depth (m)", "titlePadding": 6, "titleFontSize": 15}}},
          "layer": [
            {"data": {"name": "zones"}, "mark": {"type": "rule", "strokeDash": [0.1, 9.9], "strokeCap": "round", "strokeWidth": 3, "color": "#111"}},
            {"data": {"name": "ms"}, "mark": {"type": "point", "shape": "circle", "size": 28, "strokeWidth": 1, "opacity": 1},
             "encoding": {
               "x": {"field": "value", "type": "quantitative", "scale": {"type": "log", "domain": [1e-8, 1e-4], "nice": false}, "axis": {"orient": "top", "tickCount": 10, "labelFontSize": 13, "title": ["Mass Susceptibility", "(m³/kg)"], "titlePadding": 15, "labelExpr": "abs(log(datum.value)/LN10 - round(log(datum.value)/LN10)) < 0.01 ? '10' + ['⁻⁸','⁻⁷','⁻⁶','⁻⁵','⁻⁴','⁻³','⁻²'][round(log(datum.value)/LN10) + 8] : ''"}},
               "fill": {"field": "series", "type": "nominal", "scale": {"domain": ["2011", "2015"], "range": ["#111111", "transparent"]}, "legend": {"title": null, "legendX": 32, "legendY": 473, "symbolOffset": 18, "labelOffset": 16, "labelExpr": "datum.label + '  '"}},
               "stroke": {"field": "series", "type": "nominal", "scale": {"domain": ["2011", "2015"], "range": ["#111111", "#9a9a9a"]}, "legend": {"title": null, "legendX": 32, "legendY": 473, "symbolOffset": 18, "labelOffset": 16, "labelExpr": "datum.label + '  '"}}
             }}
          ]
        },
        {
          "width": 154, "height": 465,
          "encoding": {"y": {"field": "depth", "type": "quantitative", "scale": {"domain": [0, 25], "reverse": true, "nice": false, "zero": false}, "axis": {"orient": "left", "tickCount": 25, "labels": false, "title": null}}},
          "layer": [
            {"data": {"name": "zones"}, "mark": {"type": "rule", "strokeDash": [0.1, 9.9], "strokeCap": "round", "strokeWidth": 3, "color": "#111"}},
            {"data": {"name": "arm"}, "mark": {"type": "point", "shape": "circle", "size": 28, "strokeWidth": 1, "opacity": 1},
             "encoding": {
               "x": {"field": "value", "type": "quantitative", "scale": {"type": "log", "domain": [1e-6, 1e-3], "nice": false}, "axis": {"orient": "top", "tickCount": 10, "labelFontSize": 13, "title": ["ARM Intensity", "(Am²/kg)"], "titlePadding": 15, "labelExpr": "abs(log(datum.value)/LN10 - round(log(datum.value)/LN10)) < 0.01 ? '10' + ['⁻⁸','⁻⁷','⁻⁶','⁻⁵','⁻⁴','⁻³','⁻²'][round(log(datum.value)/LN10) + 8] : ''"}},
               "fill": {"field": "series", "type": "nominal", "scale": {"domain": ["2012", "2015"], "range": ["#111111", "transparent"]}, "legend": {"title": null, "legendX": 32, "legendY": 473, "symbolOffset": 18, "labelOffset": 16, "labelExpr": "datum.label + ' '"}},
               "stroke": {"field": "series", "type": "nominal", "scale": {"domain": ["2012", "2015"], "range": ["#111111", "#9a9a9a"]}, "legend": {"title": null, "legendX": 32, "legendY": 473, "symbolOffset": 18, "labelOffset": 16, "labelExpr": "datum.label + ' '"}}
             }}
          ]
        },
        {
          "width": 123, "height": 465,
          "encoding": {"y": {"field": "depth", "type": "quantitative", "scale": {"domain": [0, 25], "reverse": true, "nice": false, "zero": false}, "axis": {"orient": "left", "tickCount": 25, "labels": false, "title": null}}},
          "layer": [
            {"data": {"name": "zones"}, "mark": {"type": "rule", "strokeDash": [0.1, 9.9], "strokeCap": "round", "strokeWidth": 3, "color": "#111"}},
            {"data": {"name": "irm"}, "mark": {"type": "point", "strokeWidth": 1, "opacity": 1},
             "encoding": {
               "x": {"field": "value", "type": "quantitative", "scale": {"type": "log", "domain": [1e-4, 1e-2], "nice": false}, "axis": {"orient": "top", "tickCount": 10, "labelFontSize": 13, "title": ["IRM Intensity", "(Am²/kg)"], "titlePadding": 15, "labelExpr": "abs(log(datum.value)/LN10 - round(log(datum.value)/LN10)) < 0.01 ? '10' + ['⁻⁸','⁻⁷','⁻⁶','⁻⁵','⁻⁴','⁻³','⁻²'][round(log(datum.value)/LN10) + 8] : ''"}},
               "fill": {"field": "series", "type": "nominal", "scale": {"domain": ["2012", "2015", "Comp1"], "range": ["#111111", "transparent", "transparent"]}, "legend": {"title": null, "legendX": 17, "legendY": 469, "symbolOffset": 18, "labelOffset": 14, "rowPadding": 0}},
               "stroke": {"field": "series", "type": "nominal", "scale": {"domain": ["2012", "2015", "Comp1"], "range": ["#111111", "#9a9a9a", "#9a9a9a"]}, "legend": {"title": null, "legendX": 17, "legendY": 469, "symbolOffset": 18, "labelOffset": 14, "rowPadding": 0}},
               "shape": {"field": "series", "type": "nominal", "scale": {"domain": ["2012", "2015", "Comp1"], "range": ["circle", "circle", "diamond"]}, "legend": {"title": null, "legendX": 17, "legendY": 469, "symbolOffset": 18, "labelOffset": 14, "rowPadding": 0}},
               "size": {"field": "series", "type": "nominal", "scale": {"domain": ["2012", "2015", "Comp1"], "range": [28, 40, 60]}, "legend": {"title": null, "legendX": 17, "legendY": 469, "symbolOffset": 18, "labelOffset": 14, "rowPadding": 0}}
             }}
          ]
        },
        {
          "width": 125, "height": 465,
          "encoding": {"y": {"field": "depth", "type": "quantitative", "scale": {"domain": [0, 25], "reverse": true, "nice": false, "zero": false}, "axis": {"orient": "left", "tickCount": 25, "labels": false, "title": null}}},
          "layer": [
            {"data": {"name": "zones"}, "mark": {"type": "rule", "strokeDash": [0.1, 9.9], "strokeCap": "round", "strokeWidth": 3, "color": "#111"}},
            {"data": {"name": "ci"}, "mark": {"type": "point", "strokeWidth": 1, "opacity": 1},
             "encoding": {
               "x": {"field": "value", "type": "quantitative", "scale": {"domain": [-20, 30], "nice": false, "zero": false}, "axis": {"orient": "top", "tickCount": 25, "title": ["Color Index", " "], "titlePadding": 15, "labelExpr": "datum.value % 10 == 0 ? '' + datum.value : ''"}},
               "fill": {"field": "series", "type": "nominal", "scale": {"domain": ["L*", "a*", "b*"], "range": ["#111111", "#b5b5b5", "transparent"]}, "legend": {"title": null, "legendX": 24, "legendY": 469, "symbolOffset": 22, "labelOffset": 12, "rowPadding": 0, "labelExpr": "datum.label + '\u00a0\u00a0\u00a0\u00a0\u00a0'"}},
               "stroke": {"field": "series", "type": "nominal", "scale": {"domain": ["L*", "a*", "b*"], "range": ["#111111", "#b5b5b5", "#888888"]}, "legend": {"title": null, "legendX": 24, "legendY": 469, "symbolOffset": 22, "labelOffset": 12, "rowPadding": 0, "labelExpr": "datum.label + '\u00a0\u00a0\u00a0\u00a0\u00a0'"}},
               "shape": {"field": "series", "type": "nominal", "scale": {"domain": ["L*", "a*", "b*"], "range": ["circle", "circle", "diamond"]}, "legend": {"title": null, "legendX": 24, "legendY": 469, "symbolOffset": 22, "labelOffset": 12, "rowPadding": 0, "labelExpr": "datum.label + '\u00a0\u00a0\u00a0\u00a0\u00a0'"}},
               "size": {"field": "series", "type": "nominal", "scale": {"domain": ["L*", "a*", "b*"], "range": [28, 3, 30]}, "legend": {"title": null, "legendX": 24, "legendY": 469, "symbolOffset": 22, "labelOffset": 12, "rowPadding": 0, "labelExpr": "datum.label + '\u00a0\u00a0\u00a0\u00a0\u00a0'"}}
             }}
          ]
        },
        {
          "width": 123, "height": 465,
          "encoding": {"y": {"field": "depth", "type": "quantitative", "scale": {"domain": [0, 25], "reverse": true, "nice": false, "zero": false}, "axis": {"orient": "left", "tickCount": 25, "labels": false, "title": null}}},
          "layer": [
            {"data": {"name": "zones"}, "mark": {"type": "rule", "strokeDash": [0.1, 9.9], "strokeCap": "round", "strokeWidth": 3, "color": "#111"}},
            {"data": {"name": "toc"}, "mark": {"type": "circle", "size": 26, "color": "#111111", "opacity": 1},
             "encoding": {"x": {"field": "value", "type": "quantitative", "scale": {"domain": [0, 10], "nice": false}, "axis": {"orient": "top", "tickCount": 10, "title": ["TOC", "(%)"], "titlePadding": 15, "labelExpr": "datum.value % 2 == 0 ? '' + datum.value : ''"}}}}
          ]
        },
        {
          "width": 123, "height": 465,
          "encoding": {"y": {"field": "depth", "type": "quantitative", "scale": {"domain": [0, 25], "reverse": true, "nice": false, "zero": false}, "axis": {"orient": "left", "tickCount": 25, "labels": false, "title": null}}},
          "layer": [
            {"data": {"name": "zones"}, "mark": {"type": "rule", "strokeDash": [0.1, 9.9], "strokeCap": "round", "strokeWidth": 3, "color": "#111"}},
            {"data": {"name": "temp"}, "mark": {"type": "circle", "size": 26, "color": "#111111", "opacity": 1},
             "encoding": {"x": {"field": "value", "type": "quantitative", "scale": {"domain": [5, 25], "nice": false, "zero": false}, "axis": {"orient": "top", "tickCount": 20, "title": ["Temperature", "(°C)"], "titlePadding": 15, "labelExpr": "datum.value % 5 == 0 ? '' + datum.value : ''"}}}}
          ]
        },
        {
          "width": 123, "height": 465,
          "encoding": {"y": {"field": "depth", "type": "quantitative", "scale": {"domain": [0, 25], "reverse": true, "nice": false, "zero": false}, "axis": {"orient": "left", "tickCount": 25, "labels": false, "title": null}}},
          "layer": [
            {"data": {"name": "zones"}, "mark": {"type": "rule", "strokeDash": [0.1, 9.9], "strokeCap": "round", "strokeWidth": 3, "color": "#111"}},
            {"data": {"name": "sal"}, "mark": {"type": "circle", "size": 26, "color": "#111111", "opacity": 1},
             "encoding": {"x": {"field": "value", "type": "quantitative", "scale": {"domain": [0, 13.5], "nice": false}, "axis": {"orient": "top", "tickCount": 13, "title": ["Salinity", "(psu)"], "titlePadding": 15, "labelExpr": "datum.value % 4 == 0 ? '' + datum.value : ''"}}}}
          ]
        },
        {
          "width": 124, "height": 465,
          "encoding": {"y": {"field": "depth", "type": "quantitative", "scale": {"domain": [0, 25], "reverse": true, "nice": false, "zero": false}, "axis": {"orient": "left", "tickCount": 25, "labels": false, "title": null}}},
          "layer": [
            {"data": {"name": "zones"}, "mark": {"type": "rule", "strokeDash": [0.1, 9.9], "strokeCap": "round", "strokeWidth": 3, "color": "#111"}},
            {"data": {"name": "do"}, "mark": {"type": "circle", "size": 26, "color": "#111111", "opacity": 1},
             "encoding": {"x": {"field": "value", "type": "quantitative", "scale": {"domain": [0, 15], "nice": false}, "axis": {"orient": "top", "tickCount": 15, "title": ["Dissolved Oxygen", "(mg/L)"], "titlePadding": 15, "labelExpr": "datum.value % 5 == 0 ? '' + datum.value : ''"}}}},
            {"data": {"name": "zonelabels"}, "mark": {"type": "text", "angle": 270, "fontSize": 16, "color": "#444444", "align": "center", "baseline": "middle"},
             "encoding": {"x": {"datum": 16.7, "type": "quantitative"}, "text": {"field": "zone"}}}
          ]
        }
      ],
      "spacing": 18.6,
      "bounds": "flush",
      "resolve": {
        "scale": {"fill": "independent", "stroke": "independent", "shape": "independent", "size": "independent"},
        "legend": {"fill": "independent", "stroke": "independent", "shape": "independent", "size": "independent"}
      }
    },
    {
      "width": 1260, "height": 115,
      "view": {"stroke": null},
      "data": {"name": "caption"},
      "encoding": {
        "y": {"field": "line", "type": "ordinal", "axis": null, "scale": {"type": "point", "padding": 0.5}},
        "x": {"datum": 0, "type": "quantitative", "scale": {"domain": [0, 1]}, "axis": null},
        "text": {"field": "text"}
      },
      "layer": [
        {"transform": [{"filter": "datum.part == 'fig'"}], "mark": {"type": "text", "align": "left", "baseline": "middle", "fontWeight": "bold", "fontSize": 17, "font": "Open Sans", "color": "#222222", "dx": -51}},
        {"transform": [{"filter": "datum.part == 'first'"}], "mark": {"type": "text", "align": "left", "baseline": "middle", "fontSize": 18.3, "font": "Open Sans", "color": "#333333", "dx": 2}},
        {"transform": [{"filter": "datum.part == 'body'"}], "mark": {"type": "text", "align": "left", "baseline": "middle", "fontSize": 18.3, "font": "Open Sans", "color": "#333333", "dx": -51}}
      ]
    }
  ],
  "spacing": 12,
  "resolve": {
    "scale": {"fill": "independent", "stroke": "independent", "shape": "independent", "size": "independent"},
    "legend": {"fill": "independent", "stroke": "independent", "shape": "independent", "size": "independent"}
  }
}
